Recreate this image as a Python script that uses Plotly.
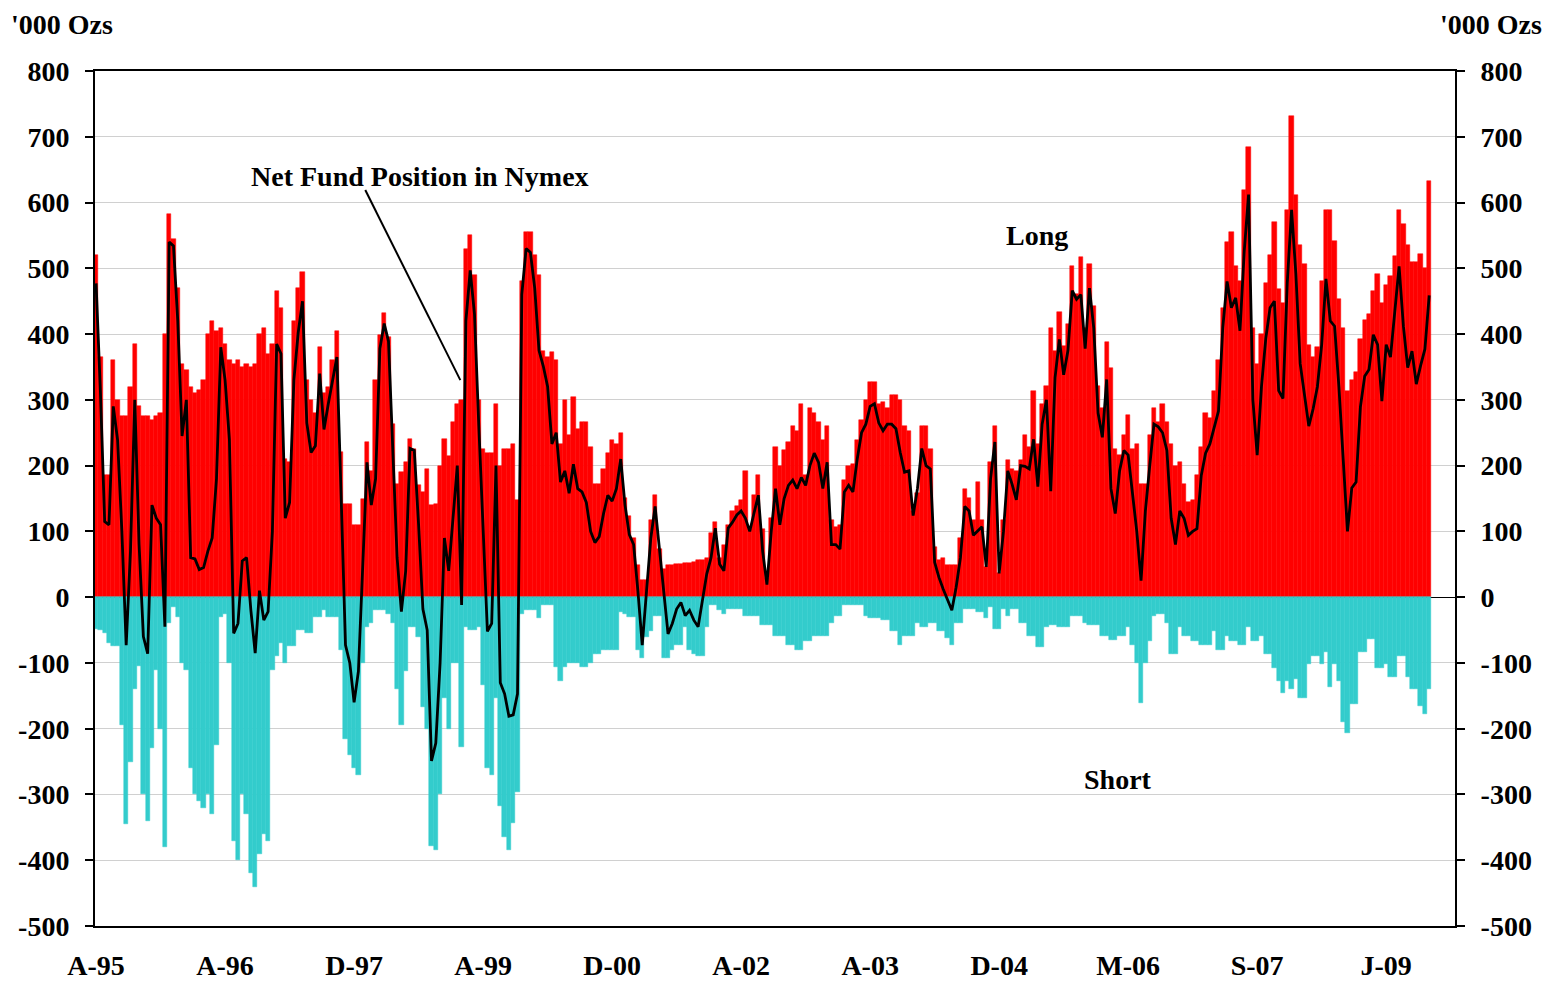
import plotly.graph_objects as go

# Weekly-ish sample index (one step per ~4.3 px of the original chart)
long_pos = [520,365,185,185,360,300,275,275,320,385,290,275,275,270,275,280,400,582,545,470,
            355,345,320,310,315,330,400,420,405,410,385,360,355,360,350,355,350,355,400,410,
            370,385,465,440,210,205,420,470,495,330,300,280,380,310,320,360,405,220,141,141,
            110,110,150,236,192,330,399,432,395,263,172,190,205,240,225,170,160,195,140,141,
            200,240,215,266,294,300,530,551,490,300,226,219,219,294,199,226,226,233,148,480,
            555,555,521,490,375,365,372,361,233,300,246,304,256,266,266,229,172,172,195,219,
            239,233,250,151,124,90,49,26,26,117,155,73,43,49,49,50,50,52,52,54,
            56,56,60,97,114,60,80,110,131,138,148,192,104,155,185,104,29,120,229,199,
            223,236,260,253,294,185,287,280,266,239,260,117,107,110,178,199,202,239,270,300,
            327,327,294,297,287,307,307,300,260,253,131,158,260,260,226,77,56,60,49,49,
            49,90,165,151,117,175,117,46,205,260,36,117,209,195,192,209,246,229,314,233,
            294,321,409,375,433,382,416,504,461,517,409,507,443,321,287,388,348,226,216,246,
            277,226,233,172,172,246,287,266,294,266,233,199,205,172,144,148,185,229,280,273,
            314,361,440,540,555,504,480,619,685,409,355,400,478,520,570,469,447,589,731,611,
            535,507,384,365,380,481,589,589,541,453,409,314,330,343,393,421,431,466,491,447,
            475,488,519,589,567,535,510,510,522,500,633]
short_pos = [-48,-50,-55,-70,-75,-75,-195,-345,-250,-140,-105,-300,-340,-230,-110,-200,-380,-40,-15,-30,
             -100,-110,-260,-300,-310,-320,-300,-330,-225,-30,-25,-100,-370,-400,-300,-330,-420,-440,-390,-360,
             -370,-110,-90,-70,-100,-75,-75,-50,-50,-55,-55,-30,-30,-20,-30,-30,-30,-80,-215,-240,
             -260,-270,-100,-45,-40,-20,-20,-20,-25,-40,-140,-195,-113,-45,-45,-60,-167,-200,-378,-385,
             -300,-154,-200,-100,-100,-228,-45,-50,-50,-45,-133,-260,-270,-154,-317,-364,-385,-344,-296,-25,
             -20,-20,-20,-32,-12,-12,-12,-106,-127,-106,-100,-100,-100,-106,-106,-100,-86,-86,-80,-80,
             -80,-80,-22,-25,-30,-30,-80,-93,-60,-52,-28,-28,-93,-93,-80,-73,-73,-45,-80,-86,
             -90,-90,-45,-12,-12,-20,-25,-18,-18,-18,-18,-28,-28,-28,-28,-42,-42,-42,-59,-59,
             -59,-73,-73,-80,-80,-66,-66,-59,-59,-59,-59,-39,-28,-28,-12,-12,-12,-12,-12,-28,
             -32,-32,-32,-35,-35,-52,-52,-73,-59,-59,-59,-39,-45,-45,-39,-39,-52,-52,-62,-73,
             -39,-39,-18,-18,-18,-22,-22,-32,-15,-49,-49,-18,-28,-18,-18,-39,-39,-59,-59,-76,
             -76,-45,-42,-42,-45,-45,-45,-28,-28,-28,-39,-42,-42,-42,-59,-59,-65,-65,-59,-59,
             -45,-73,-100,-161,-100,-66,-28,-25,-25,-39,-86,-86,-45,-59,-59,-66,-66,-73,-73,-73,
             -52,-80,-80,-59,-66,-66,-73,-73,-45,-66,-66,-59,-86,-86,-108,-127,-146,-127,-140,-124,
             -153,-153,-102,-90,-90,-102,-83,-137,-102,-127,-190,-206,-162,-162,-83,-83,-64,-64,-108,-108,
             -102,-121,-121,-90,-90,-121,-140,-140,-165,-178,-140]
net_pos = [477,314,115,110,290,239,100,-73,70,300,80,-60,-86,140,120,110,-45,540,534,420,
           245,300,60,58,42,45,70,90,180,380,330,240,-55,-40,55,60,-20,-85,10,-35,
           -22,100,385,370,120,144,330,402,450,265,220,230,340,255,294,330,365,150,-73,-100,
           -160,-113,60,205,140,180,378,416,389,230,60,-22,40,226,223,110,-18,-50,-249,-222,
           -100,90,40,120,200,-12,420,497,430,260,90,-52,-40,200,-130,-147,-181,-179,-147,460,
           530,524,470,375,351,320,233,250,175,192,158,202,165,160,144,100,83,92,127,155,
           146,165,210,140,95,80,9,-73,9,90,138,70,2,-56,-40,-18,-8,-28,-20,-35,
           -45,-5,35,60,105,50,40,105,114,125,131,120,100,128,155,70,19,100,165,110,
           150,170,178,165,182,170,200,219,205,165,205,80,80,73,160,170,160,210,250,263,
           290,294,265,253,263,263,256,220,190,192,124,165,226,200,195,53,30,12,-5,-20,
           15,60,138,131,94,100,107,46,180,236,36,100,192,172,148,200,199,195,240,168,
           263,300,161,334,392,338,375,466,453,460,378,470,409,280,243,331,165,127,192,223,
           216,158,100,25,131,199,263,259,250,223,120,80,131,120,94,100,104,185,219,233,
           256,283,410,480,440,455,405,527,612,300,216,320,393,440,450,314,302,478,589,491,
           355,311,260,286,320,384,484,420,412,320,201,100,166,175,289,336,346,399,384,298,
           384,365,434,503,412,349,374,324,352,377,459]

x_labels = ["A-95", "A-96", "D-97", "A-99", "D-00", "A-02", "A-03", "D-04", "M-06", "S-07", "J-09"]
x_label_pos = [30 * k for k in range(len(x_labels))]
y_ticks = list(range(-500, 801, 100))
y_text = [str(v) for v in y_ticks]

idx = list(range(len(long_pos)))
FONT = "Liberation Serif"

fig = go.Figure()
fig.add_trace(go.Bar(x=idx, y=long_pos, width=1, marker=dict(color="#FF0000", line=dict(color="#FF0000", width=0.5)),
                     name="Long", showlegend=False))
fig.add_trace(go.Bar(x=idx, y=short_pos, width=1, marker=dict(color="#33CCCC", line=dict(color="#33CCCC", width=0.5)),
                     name="Short", showlegend=False))
fig.add_trace(go.Scatter(x=idx, y=net_pos, mode="lines", line=dict(color="black", width=2.8),
                         name="Net", showlegend=False))
fig.add_trace(go.Scatter(x=[idx[0]], y=[0], yaxis="y2", mode="markers", marker=dict(opacity=0),
                         showlegend=False, hoverinfo="skip"))

axis_font = dict(family=FONT, size=28, color="black", weight="bold")
fig.update_layout(
    width=1543, height=974,
    margin=dict(l=87, r=96, t=63, b=56, autoexpand=False),
    paper_bgcolor="white", plot_bgcolor="white",
    barmode="overlay", bargap=0,
    font=dict(family=FONT, size=28, color="black"),
    xaxis=dict(range=[-0.25, 316.0], tickvals=x_label_pos, ticktext=x_labels, tickfont=axis_font,
               showline=True, linecolor="black", linewidth=2, mirror=True, showgrid=False,
               ticks="", zeroline=False, ticklabelstandoff=13, automargin=False),
    yaxis=dict(range=[-500, 800], tickvals=y_ticks, ticktext=y_text, tickfont=axis_font,
               showline=True, linecolor="black", linewidth=2, showgrid=True, gridcolor="#D0D0D0",
               gridwidth=1, ticks="outside", ticklen=8, tickcolor="black", tickwidth=1.5,
               zeroline=True, zerolinecolor="black", zerolinewidth=1, ticklabelstandoff=10,
               automargin=False),
    yaxis2=dict(range=[-500, 800], tickvals=y_ticks, ticktext=y_text, tickfont=axis_font,
                overlaying="y", side="right", showline=True, linecolor="black", linewidth=2,
                showgrid=False, ticks="outside", ticklen=8, tickcolor="black", tickwidth=1.5,
                zeroline=False, ticklabelstandoff=10, automargin=False),
)

ann_font = dict(family=FONT, size=28, color="black")
fig.add_annotation(x=75.3, y=639, xref="x", yref="y", text="<b>Net Fund Position in Nymex</b>",
                   showarrow=False, font=ann_font)
fig.add_shape(type="line", xref="x", yref="y", x0=62.6, y0=619, x1=84.7, y1=330,
              line=dict(color="black", width=2))
fig.add_annotation(x=218.8, y=550, xref="x", yref="y", text="<b>Long</b>", showarrow=False, font=ann_font)
fig.add_annotation(x=237.7, y=-277, xref="x", yref="y", text="<b>Short</b>", showarrow=False, font=ann_font)
fig.add_annotation(x=-0.0625, y=1.0737, xref="paper", yref="paper", text="<b>'000 Ozs</b>",
                   xanchor="left", yanchor="top", borderpad=0, showarrow=False, font=ann_font)
fig.add_annotation(x=1.0647, y=1.0737, xref="paper", yref="paper", text="<b>'000 Ozs</b>",
                   xanchor="right", yanchor="top", borderpad=0, showarrow=False, font=ann_font)

fig.write_html("out.html")
